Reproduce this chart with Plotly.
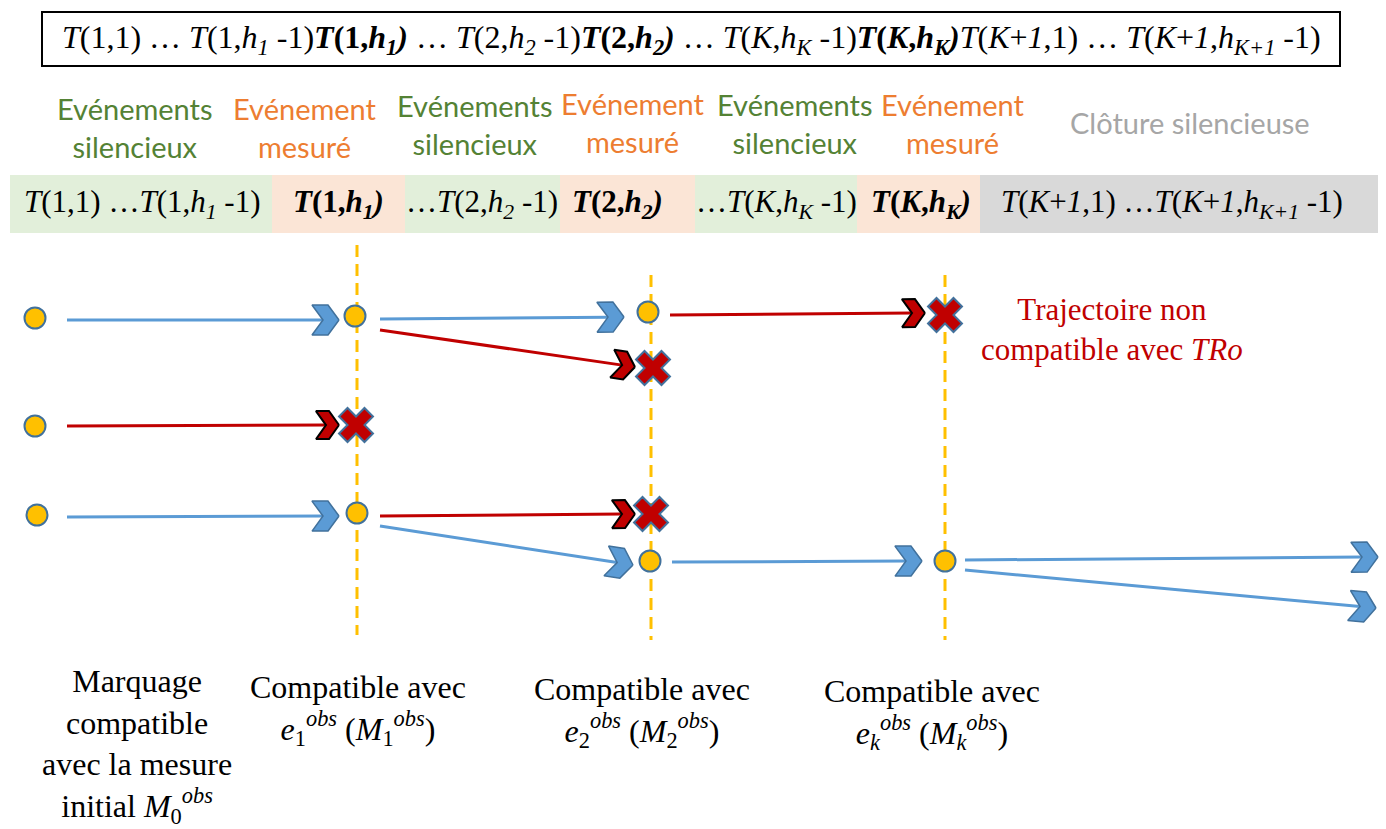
import math
import plotly.graph_objects as go

W, H = 1386, 829

SERIF = "Liberation Serif"
SANS = "Lato"
VERT = "#548235"
ORANGE = "#ED7D31"
GRIS = "#A6A6A6"
ROUGE = "#C00000"
BLEU = "#5B9BD5"
BLEU_BORD = "#41719C"
JAUNE = "#FFC000"

# ---- séquence complète (cadre du haut)
seq_txt = ("<i>T</i>(1,1) … <i>T</i>(1,<i>h<sub>1</sub></i> -1)<b><i>T</i>(1,<i>h<sub>1</sub>)</i></b> … "
           "<i>T</i>(2,<i>h<sub>2</sub></i> -1)<b><i>T</i>(2,<i>h<sub>2</sub>)</i></b> … "
           "<i>T</i>(<i>K</i>,<i>h<sub>K</sub></i> -1)<b><i>T</i>(<i>K</i>,<i>h<sub>K</sub>)</i></b>"
           "<i>T</i>(<i>K</i>+<i>1</i>,1) … <i>T</i>(<i>K</i>+<i>1</i>,<i>h<sub>K+1</sub></i> -1)")
cadre = [42, 12, 1340, 66]

# ---- en-têtes
head_txt = ["Evénements<br>silencieux", "Evénement<br>mesuré", "Evénements<br>silencieux",
            "Evénement<br>mesuré", "Evénements<br>silencieux", "Evénement<br>mesuré",
            "Clôture silencieuse"]
head_x = [135, 305, 475, 633, 795, 953, 1190]
head_y = [127, 127, 124, 122, 123, 123, 122]
head_col = [VERT, ORANGE, VERT, ORANGE, VERT, ORANGE, GRIS]

# ---- bande colorée
band_x0 = [10, 272, 405, 560, 695, 857, 980]
band_x1 = [272, 405, 560, 695, 857, 980, 1378]
band_col = ["#E2EFDA", "#FBE5D6", "#E2EFDA", "#FBE5D6", "#E2EFDA", "#FBE5D6", "#D9D9D9"]
band_txt = ["<i>T</i>(1,1) …<i>T</i>(1,<i>h<sub>1</sub></i> -1)",
            "<b><i>T</i>(1,<i>h<sub>1</sub>)</i></b>",
            "…<i>T</i>(2,<i>h<sub>2</sub></i> -1)",
            "<b><i>T</i>(2,<i>h<sub>2</sub>)</i></b>",
            "…<i>T</i>(<i>K</i>,<i>h<sub>K</sub></i> -1)",
            "<b><i>T</i>(<i>K</i>,<i>h<sub>K</sub>)</i></b>",
            "<i>T</i>(<i>K</i>+<i>1</i>,1) …<i>T</i>(<i>K</i>+<i>1</i>,<i>h<sub>K+1</sub></i> -1)"]
band_cx = [142, 338, 482, 617, 776, 921, 1172]
band_y = [175, 233]

# ---- lignes de mesure (pointillés)
vline_x = [357, 651, 945]
vline_top = [245, 275, 275]
vline_bot = [635, 640, 640]

# ---- marquages (noeuds)
node_x = [35, 355, 648, 35, 37, 357, 650, 945]
node_y = [318, 316, 312, 426, 515, 513, 561, 561]

# ---- trajectoires compatibles (bleu)
blue_x0 = [67, 380, 67, 380, 672, 965, 965]
blue_y0 = [320, 319, 517, 526, 562, 560, 570]
blue_x1 = [339, 624, 339, 633, 922, 1378, 1376]
blue_y1 = [320, 317, 516, 565, 561, 557, 608]

# ---- trajectoires non compatibles (rouge)
red_x0 = [380, 670, 67, 380]
red_y0 = [330, 315, 426, 516]
red_x1 = [635, 925, 339, 635]
red_y1 = [367, 313, 425, 514]
cross_x = [653, 945, 356, 651]
cross_y = [368, 315, 425, 514]

# ---- légendes du bas
bot_txt = ["Marquage<br>compatible<br>avec la mesure<br>initial <i>M</i><sub>0</sub><sup><i>obs</i></sup>",
           "Compatible avec<br><i>e</i><sub>1</sub><sup><i>obs</i></sup> (<i>M</i><sub>1</sub><sup><i>obs</i></sup>)",
           "Compatible avec<br><i>e</i><sub>2</sub><sup><i>obs</i></sup> (<i>M</i><sub>2</sub><sup><i>obs</i></sup>)",
           "Compatible avec<br><i>e</i><sub><i>k</i></sub><sup><i>obs</i></sup> (<i>M</i><sub><i>k</i></sub><sup><i>obs</i></sup>)"]
bot_x = [137, 358, 642, 932]
bot_y = [746, 710, 712, 714]

note_txt = "Trajectoire non<br>compatible avec <i>TRo</i>"
note_x, note_y = 1112, 329


def chevron(tx, ty, ang, L=27, h=15, t=11):
    pts = [(0, 0), (-t, -h), (-L, -h), (-L + t, 0), (-L, h), (-t, h), (0, 0)]
    c, s = math.cos(ang), math.sin(ang)
    xs = [tx + px * c - py * s for px, py in pts]
    ys = [ty + px * s + py * c for px, py in pts]
    return xs, ys


def fleches(fig, x0, y0, x1, y1, col, bord, bw, L, h, t):
    lx, ly = [], []
    for a, b, c, d in zip(x0, y0, x1, y1):
        ang = math.atan2(d - b, c - a)
        lx += [a, c - (L - t) * math.cos(ang), None]
        ly += [b, d - (L - t) * math.sin(ang), None]
    fig.add_trace(go.Scatter(x=lx, y=ly, mode="lines", line=dict(color=col, width=3),
                             hoverinfo="skip"))
    for a, b, c, d in zip(x0, y0, x1, y1):
        ang = math.atan2(d - b, c - a)
        xs, ys = chevron(c, d, ang, L, h, t)
        fig.add_trace(go.Scatter(x=xs, y=ys, mode="lines", fill="toself", fillcolor=col,
                                 line=dict(color=bord, width=bw), hoverinfo="skip"))


fig = go.Figure()

# pointillés verticaux
vx, vy = [], []
for x, a, b in zip(vline_x, vline_top, vline_bot):
    vx += [x, x, None]
    vy += [a, b, None]
fig.add_trace(go.Scatter(x=vx, y=vy, mode="lines",
                         line=dict(color=JAUNE, width=3, dash="12px,7px"), hoverinfo="skip"))

fleches(fig, blue_x0, blue_y0, blue_x1, blue_y1, BLEU, BLEU_BORD, 1.5, 27, 15, 11)
fleches(fig, red_x0, red_y0, red_x1, red_y1, ROUGE, "black", 2, 23, 14, 10)

fig.add_trace(go.Scatter(x=node_x, y=node_y, mode="markers",
                         marker=dict(size=21, color=JAUNE, line=dict(color=BLEU_BORD, width=2)),
                         hoverinfo="skip"))
fig.add_trace(go.Scatter(x=cross_x, y=cross_y, mode="markers",
                         marker=dict(symbol="x", size=30, color=ROUGE,
                                     line=dict(color=BLEU_BORD, width=2)),
                         hoverinfo="skip"))

shapes = [dict(type="rect", xref="x", yref="y", x0=cadre[0], y0=cadre[1], x1=cadre[2], y1=cadre[3],
               line=dict(color="black", width=2), fillcolor="white", layer="below")]
for a, b, c in zip(band_x0, band_x1, band_col):
    shapes.append(dict(type="rect", xref="x", yref="y", x0=a, x1=b, y0=band_y[0], y1=band_y[1],
                       line=dict(width=0), fillcolor=c, layer="below"))

ann = [dict(x=(cadre[0] + cadre[2]) / 2, y=(cadre[1] + cadre[3]) / 2, text=seq_txt,
            font=dict(family=SERIF, size=32, color="black"))]
for t, x, y, c in zip(head_txt, head_x, head_y, head_col):
    ann.append(dict(x=x, y=y, text=t, font=dict(family=SANS, size=29, color=c)))
for t, x in zip(band_txt, band_cx):
    ann.append(dict(x=x, y=sum(band_y) / 2, text=t, font=dict(family=SERIF, size=31, color="black")))
for t, x, y in zip(bot_txt, bot_x, bot_y):
    ann.append(dict(x=x, y=y, text=t, font=dict(family=SERIF, size=32, color="black")))
ann.append(dict(x=note_x, y=note_y, text=note_txt, font=dict(family=SERIF, size=31, color=ROUGE)))
for a in ann:
    a.update(xref="x", yref="y", showarrow=False, xanchor="center", yanchor="middle")

fig.update_layout(
    width=W, height=H, margin=dict(l=0, r=0, t=0, b=0),
    paper_bgcolor="white", plot_bgcolor="white", showlegend=False,
    xaxis=dict(range=[0, W], visible=False, fixedrange=True),
    yaxis=dict(range=[H, 0], visible=False, fixedrange=True),
    shapes=shapes, annotations=ann,
)

# la page par défaut a une marge de 8 px autour du graphique
fig.write_html("out.html", config={"displayModeBar": False},
               post_script="document.body.style.margin='0';")
